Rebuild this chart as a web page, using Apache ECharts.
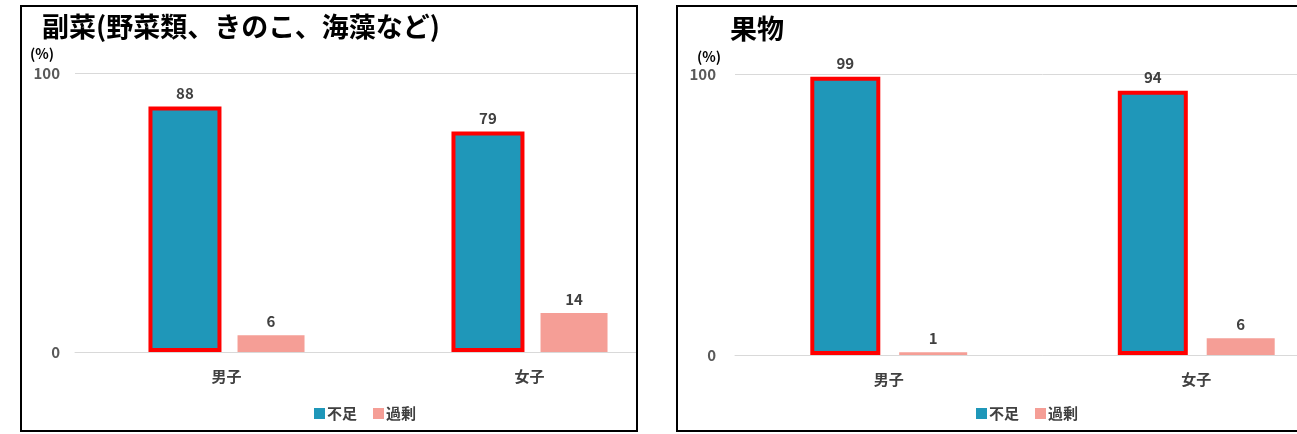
<!DOCTYPE html>
<html>
<head>
<meta charset="utf-8">
<script src="https://cdn.jsdelivr.net/npm/echarts@6/dist/echarts.min.js"></script>
<style>
  html, body { margin: 0; padding: 0; background: #fff; overflow: hidden; width: 1297px; height: 434px; }
  .panel { position: absolute; top: 5px; height: 423px; border: 2px solid #000; overflow: hidden; background: #fff; }
  #p1 { left: 20px; width: 614px; }
  #p2 { left: 676px; width: 640px; }
  .chart { position: absolute; left: 0; top: 0; height: 423px; }
  #first { width: 686px; }
  #second { width: 698px; }
</style>
</head>
<body>
<div class="panel" id="p1"><div class="chart" id="first"></div></div>
<div class="panel" id="p2"><div class="chart" id="second"></div></div>
<script>
var categories = ['男子', '女子'];
var seriesNames = ['不足', '過剰'];
var vegShortage = [88, 79];
var vegExcess = [6, 14];
var fruitShortage = [99, 94];
var fruitExcess = [1, 6];
var yTicks = [0, 100];

var FONT = '"Noto Sans CJK JP", "Noto Sans", sans-serif';

function makeOption(title, shortage, excess, g) {
    var labelStyle = {show: true, position: 'top', distance: 6, fontSize: 15, fontWeight: 'bold', color: '#404040', fontFamily: FONT};
    return {
        animation: false,
        textStyle: {fontFamily: FONT},
        title: [
            {
                text: title,
                left: g.titleLeft,
                top: g.titleTop,
                textStyle: {fontSize: 27, fontWeight: 'bold', color: '#000', fontFamily: FONT}
            },
            {
                text: '(%)',
                left: g.unitLeft,
                top: g.unitTop,
                textStyle: {fontSize: 14, fontWeight: 'bold', color: '#000', fontFamily: FONT}
            }
        ],
        legend: {
            bottom: 4,
            left: 'center',
            itemWidth: 11,
            itemHeight: 11,
            itemGap: 16,
            icon: 'rect',
            itemStyle: {borderWidth: 0},
            textStyle: {fontSize: 15, fontWeight: 'bold', color: '#404040', fontFamily: FONT, padding: [0, 0, 0, -3]},
            data: seriesNames
        },
        grid: {left: g.left, right: g.right, top: g.top, bottom: g.bottom},
        xAxis: {
            type: 'category',
            data: categories,
            axisTick: {show: false},
            axisLine: {lineStyle: {color: '#d9d9d9', width: 1}},
            axisLabel: {fontSize: 15, fontWeight: 'bold', color: '#404040', margin: 17, fontFamily: FONT}
        },
        yAxis: {
            type: 'value',
            min: yTicks[0],
            max: yTicks[yTicks.length - 1],
            interval: yTicks[1] - yTicks[0],
            axisLine: {show: false},
            axisTick: {show: false},
            splitLine: {lineStyle: {color: '#d9d9d9'}},
            axisLabel: {fontSize: 15, fontWeight: 'bold', color: '#595959', margin: g.labelMargin, fontFamily: FONT}
        },
        series: [
            {
                name: seriesNames[0],
                type: 'bar',
                data: shortage,
                barWidth: g.barWidth1,
                barGap: g.barGap,
                itemStyle: {color: '#1f97b9', borderColor: '#ff0000', borderWidth: 4},
                label: labelStyle
            },
            {
                name: seriesNames[1],
                type: 'bar',
                data: excess,
                barWidth: g.barWidth2,
                barGap: g.barGap,
                itemStyle: {color: '#f59e96'},
                label: labelStyle
            }
        ]
    };
}

var chart1 = echarts.init(document.getElementById('first'));
chart1.setOption(makeOption('副菜(野菜類、きのこ、海藻など)', vegShortage, vegExcess, {
    titleLeft: 15, titleTop: 1, unitLeft: 3, unitTop: 35,
    left: 53, right: 27, top: 66, bottom: 78,
    labelMargin: 15, barWidth1: 73, barWidth2: 67, barGap: '22%'
}));

var chart2 = echarts.init(document.getElementById('second'));
chart2.setOption(makeOption('果物', fruitShortage, fruitExcess, {
    titleLeft: 47, titleTop: 3, unitLeft: 14, unitTop: 38,
    left: 57, right: 26, top: 67, bottom: 75,
    labelMargin: 19, barWidth1: 70, barWidth2: 68, barGap: '27%'
}));
</script>
</body>
</html>
